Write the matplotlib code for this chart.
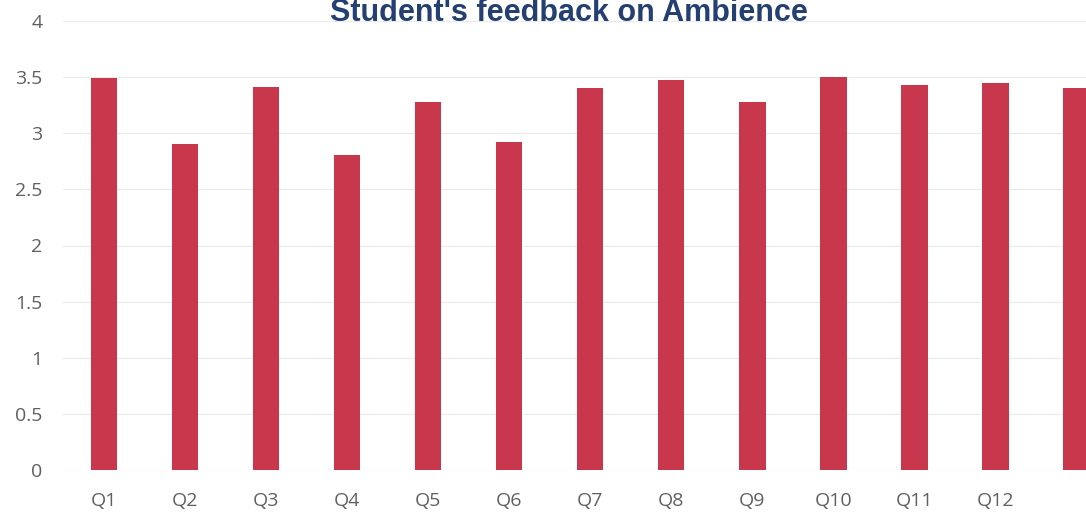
import numpy as np
import matplotlib
matplotlib.use('Agg')
import matplotlib.pyplot as plt

plt.rcParams['font.family'] = 'Open Sans'

# data
questions = ['Q1', 'Q2', 'Q3', 'Q4', 'Q5', 'Q6', 'Q7', 'Q8', 'Q9',
             'Q10', 'Q11', 'Q12', '']
scores = [3.49, 2.90, 3.41, 2.81, 3.28, 2.92, 3.40, 3.47, 3.28,
          3.50, 3.43, 3.45, 3.40]
y_ticks = [0, 0.5, 1, 1.5, 2, 2.5, 3, 3.5, 4]
y_labels = ['0', '0.5', '1', '1.5', '2', '2.5', '3', '3.5', '4']
title = "Student's feedback on Ambience"

bar_color = '#C8374C'
grid_color = '#EBEBEB'
label_color = '#606060'

W, H = 1086, 513
fig = plt.figure(figsize=(W / 100, H / 100), dpi=100)
# axes placed in pixel terms so the last bar is clipped at the right edge
left_px, right_px, bottom_px, top_px = 63.4, 1086, 470, 21
ax = fig.add_axes([left_px / W, (H - bottom_px) / H,
                   (right_px - left_px) / W, (bottom_px - top_px) / H])

x = np.arange(len(questions))
ax.bar(x, scores, width=0.33, color=bar_color, zorder=3)

ax.set_xlim(-0.5, 12.12)
ax.set_ylim(0, 4)
ax.set_yticks(y_ticks)
ax.set_yticklabels(y_labels)
ax.set_xticks(x)
ax.set_xticklabels(questions)
ax.tick_params(axis='both', length=0, labelsize=14, labelcolor=label_color)
ax.tick_params(axis='y', pad=15)
ax.tick_params(axis='x', pad=16)
ax.grid(True, axis='y', color=grid_color, linewidth=0.9, zorder=0)
for s in ax.spines.values():
    s.set_visible(False)

fig.text(569 / W, (H - 21) / H, title, ha='center', va='baseline',
         fontsize=22, fontweight='bold', color='#243F72',
         family='Liberation Sans')

plt.savefig('out.png', dpi=100)
